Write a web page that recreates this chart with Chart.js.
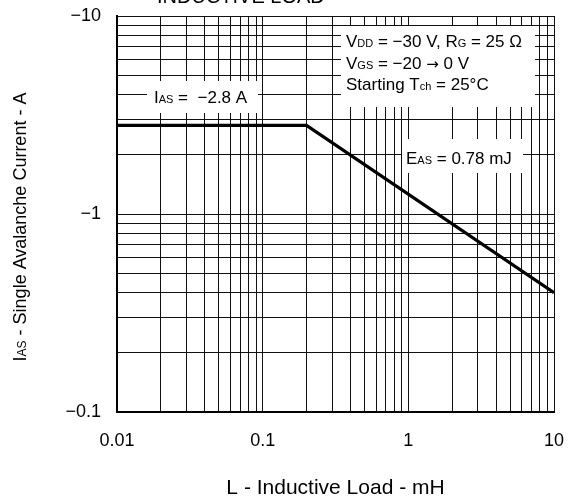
<!DOCTYPE html>
<html><head><meta charset="utf-8">
<script src="https://cdn.jsdelivr.net/npm/chart.js@4"></script>
<style>html,body{margin:0;padding:0;background:#fff}#wrap{width:569px;height:504px}</style>
</head><body><div id="wrap"><canvas id="c" width="569" height="504"></canvas></div>
<script>
// Data (current magnitudes; actual currents are negative, e.g. −2.8 A)
const inductanceMH = [0.01, 0.2, 10];
const avalancheCurrentA = [2.8, 2.8, 0.40];
// Axis decades and their labels
const xDecades = [0.01, 0.1, 1, 10];
const xDecadeLabels = ['0.01', '0.1', '1', '10'];
const yDecades = [0.1, 1, 10];
const yDecadeLabels = ['\u22120.1', '\u22121', '\u221210'];
const minorSteps = [1, 2, 3, 4, 5, 6, 7, 8, 9];

const FONT = '"Liberation Sans", Arial, Helvetica, sans-serif';
const SYM = '"DejaVu Sans", sans-serif';

function gridTicks(decades) {
  const t = [];
  for (let i = 0; i < decades.length - 1; i++) {
    for (const k of minorSteps) t.push({ value: decades[i] * k });
  }
  t.push({ value: decades[decades.length - 1] });
  return t;
}
function decadeLabel(v, decades, labels) {
  for (let i = 0; i < decades.length; i++) {
    if (Math.abs(v / decades[i] - 1) < 1e-6) return labels[i];
  }
  return '';
}
function drawRich(ctx, parts, x, y, measureOnly) {
  let cx = x;
  for (const [t, s, fam] of parts) {
    ctx.font = s + 'px ' + (fam || FONT);
    if (!measureOnly) ctx.fillText(t, cx, y);
    cx += ctx.measureText(t).width;
  }
  return cx - x;
}

const annotations = {
  id: 'annotations',
  beforeDatasetsDraw(chart) {
    const ctx = chart.ctx;
    const a = chart.chartArea;
    ctx.save();
    ctx.fillStyle = '#fff';
    // label boxes (hide the grid behind the text)
    ctx.fillRect(a.left + 30, 81, 111, 32);
    ctx.fillRect(a.left + 224, 26, 194, 81);
    ctx.fillRect(a.left + 285, 139, 121, 34);
    ctx.fillStyle = '#000';
    ctx.textBaseline = 'alphabetic';
    ctx.textAlign = 'left';
    drawRich(ctx, [['I', 17], ['AS', 11], [' =  \u22122.8 A', 17]], a.left + 37, 103);
    drawRich(ctx, [['V', 17], ['DD', 11], [' = \u221230 V, R', 17], ['G', 11], [' = 25 \u03A9', 17]], a.left + 229, 47);
    drawRich(ctx, [['V', 17], ['GS', 11], [' = \u221220 ', 17], ['\u2192', 15, SYM], [' 0 V', 17]], a.left + 229, 68.5);
    drawRich(ctx, [['Starting T', 17], ['ch', 11], [' = 25\u00B0C', 17]], a.left + 229, 90);
    drawRich(ctx, [['E', 17], ['AS', 11], [' = 0.78 mJ', 17]], a.left + 289, 164);
    ctx.restore();
  },
  afterDraw(chart) {
    const ctx = chart.ctx;
    const a = chart.chartArea;
    ctx.save();
    ctx.fillStyle = '#000';
    ctx.textBaseline = 'alphabetic';
    ctx.textAlign = 'left';
    // cut-off title at top
    drawRich(ctx, [['INDUCTIVE LOAD', 20]], 157, 3);
    // x axis title
    const xt = [['L - Inductive Load - mH', 21]];
    const wx = drawRich(ctx, xt, 0, 0, true);
    drawRich(ctx, xt, (a.left + a.right) / 2 - wx / 2, 494);
    // y axis title (rotated)
    const yt = [['I', 18], ['AS', 12], [' - Single Avalanche Current - A', 18]];
    const wy = drawRich(ctx, yt, 0, 0, true);
    ctx.translate(26, 227);
    ctx.rotate(-Math.PI / 2);
    drawRich(ctx, yt, -wy / 2, 0);
    ctx.restore();
  }
};

new Chart(document.getElementById('c'), {
  type: 'line',
  data: {
    datasets: [{
      data: inductanceMH.map((x, i) => ({ x, y: avalancheCurrentA[i] })),
      borderColor: '#000',
      borderWidth: 3.2,
      pointRadius: 0,
      tension: 0,
      fill: false
    }]
  },
  options: {
    responsive: false,
    animation: false,
    devicePixelRatio: 1,
    layout: { padding: { top: 16, right: 15, bottom: 0, left: 0 } },
    plugins: { legend: { display: false }, tooltip: { enabled: false }, title: { display: false } },
    scales: {
      x: {
        type: 'logarithmic',
        min: xDecades[0],
        max: xDecades[xDecades.length - 1],
        afterBuildTicks: s => { s.ticks = gridTicks(xDecades); },
        afterFit: s => { s.height = 92; s.paddingLeft = 0; s.paddingRight = 0; },
        grid: { color: '#111', lineWidth: 1, drawTicks: false },
        border: { display: true, color: '#000', width: 2 },
        ticks: {
          autoSkip: false, maxRotation: 0, padding: 18, color: '#000',
          font: { family: FONT, size: 18 },
          callback: v => decadeLabel(v, xDecades, xDecadeLabels)
        }
      },
      y: {
        type: 'logarithmic',
        min: yDecades[0],
        max: yDecades[yDecades.length - 1],
        afterBuildTicks: s => { s.ticks = gridTicks(yDecades); },
        afterFit: s => { s.width = 117; s.paddingTop = 0; s.paddingBottom = 0; },
        grid: { color: '#111', lineWidth: 1, drawTicks: false },
        border: { display: true, color: '#000', width: 2 },
        ticks: {
          autoSkip: false, padding: 16, color: '#000',
          font: { family: FONT, size: 18 },
          callback: v => decadeLabel(v, yDecades, yDecadeLabels)
        }
      }
    }
  },
  plugins: [annotations]
});
</script>
</body></html>
